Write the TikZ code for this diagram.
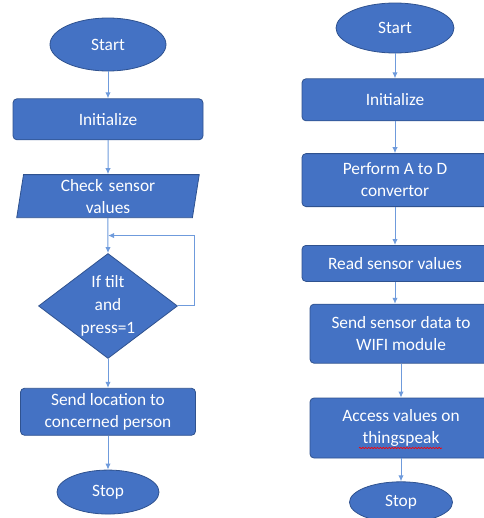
\documentclass[tikz,border=0pt]{standalone}
\usepackage{fontspec}
\setmainfont{Carlito}
\usetikzlibrary{calc}
\usetikzlibrary{positioning}
\usetikzlibrary{shapes.geometric,arrows.meta,decorations.pathmorphing}
\definecolor{boxblue}{HTML}{4472C4}
\definecolor{edgeblue}{HTML}{2F528F}
\definecolor{linkblue}{HTML}{6F9BDC}
\tikzset{
  every node/.style={text=white, font=\fontsize{13}{16.5}\selectfont},
  term/.style={ellipse, draw=edgeblue, fill=boxblue, line width=0.6pt},
  block/.style={rectangle, rounded corners=3pt, draw=edgeblue, fill=boxblue, line width=0.6pt, align=center},
  io/.style={trapezium, trapezium left angle=81, trapezium right angle=99, trapezium stretches=true, draw=edgeblue, fill=boxblue, line width=0.6pt, align=center},
  decision/.style={diamond, draw=edgeblue, fill=boxblue, line width=0.6pt, align=center, inner sep=0pt, aspect=1.32},
  flow/.style={draw=linkblue, line width=0.75pt, -{Latex[length=4.5pt,width=4pt]}},
}

\begin{document}
\begin{tikzpicture}[x=0.75pt, y=-0.75pt]
  \path[use as bounding box, clip] (0,0) rectangle (484,518);

  % left chart
  \node [term, minimum width=87pt, minimum height=39.75pt] (lstart) at (108,44.5) {Start};
  \node [block, below=20.25pt of lstart, minimum width=142.5pt, minimum height=30.75pt] (linit) {Initialize};
  \node [io, below=25.5pt of linit, minimum width=132pt, minimum height=32.25pt, text width=120pt] (check) {Check sensor\\values};
  \node [decision, below=26.25pt of check, minimum width=104.25pt, minimum height=78.75pt, font=\fontsize{13}{17.25}\selectfont] (dia) {If tilt\\and\\press=1};
  \node [block, below=21.75pt of dia, minimum width=131.25pt, minimum height=35.25pt] (sendloc) {Send location to\\concerned person};
  \node [term, below=25.5pt of sendloc, minimum width=76.5pt, minimum height=33pt] (lstop) {Stop};

  \coordinate (loopend) at ($(check.south)!0.5!(dia.north)$);

  \draw [flow] (lstart) -- (linit);
  \draw [flow] (linit) -- (check);
  \draw [flow] (check) -- (dia);
  \draw [flow] (dia.east) -- ++(17,0) |- (loopend);
  \draw [flow] (dia) -- (sendloc);
  \draw [flow] (sendloc) -- (lstop);

  % right chart
  \node [term, minimum width=88.5pt, minimum height=37.5pt] (rstart) at (395,28) {Start};
  \node [block, below=18.75pt of rstart, minimum width=139.5pt, minimum height=31.5pt] (rinit) {Initialize};
  \node [block, below=24pt of rinit, minimum width=139.5pt, minimum height=39.75pt] (adc) {Perform A to D\\convertor};
  \node [block, below=28.5pt of adc, minimum width=139.5pt, minimum height=27pt] (read) {Read sensor values};
  \node [block, below=16.5pt of read, xshift=4.5pt, minimum width=136.5pt, minimum height=44.25pt] (wifi) {Send sensor data to\\WIFI module};
  \node [block, below=25.5pt of wifi, minimum width=136.5pt, minimum height=45pt] (access) {Access values on\\thingspeak};
  \node [term, below=17.25pt of access, minimum width=77.25pt, minimum height=30.75pt] (rstop) {Stop};

  \draw [red, line width=0.5pt, decorate, decoration={snake, segment length=2.2pt, amplitude=0.5pt}]
    ([shift={(-42,20)}]access.center) -- ([shift={(41,20)}]access.center);

  \draw [flow] (rstart) -- (rinit);
  \draw [flow] (rinit) -- (adc);
  \draw [flow] (adc) -- (read);
  \draw [flow] (read.south) -- (read.south |- wifi.north);
  \draw [flow] (wifi) -- (access);
  \draw [flow] (access) -- (rstop);
\end{tikzpicture}
\end{document}
